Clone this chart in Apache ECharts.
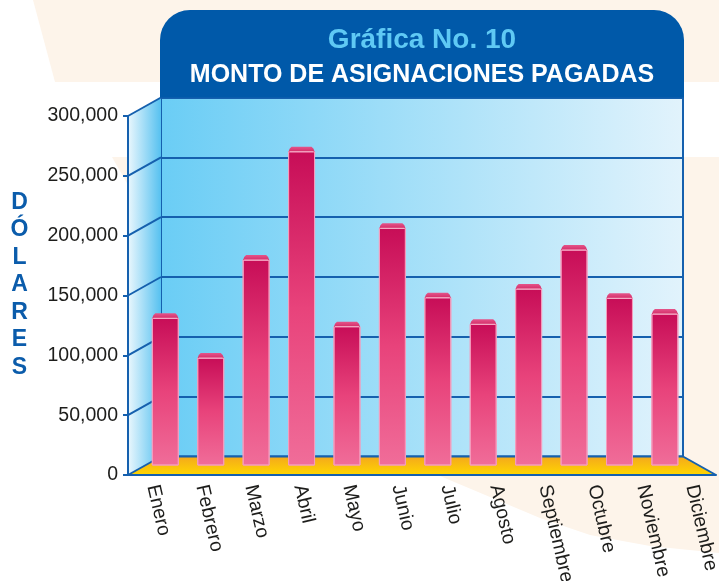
<!DOCTYPE html>
<html>
<head>
<meta charset="utf-8">
<script src="https://cdn.jsdelivr.net/npm/echarts@6/dist/echarts.min.js"></script>
<style>
  html, body { margin: 0; padding: 0; background: #fff; }
  #chart { width: 719px; height: 581px; }
</style>
</head>
<body>
<div id="chart"></div>
<script>
// datos de la gráfica
const meses = ["Enero", "Febrero", "Marzo", "Abril", "Mayo", "Junio", "Julio",
  "Agosto", "Septiembre", "Octubre", "Noviembre", "Diciembre"];
const montos = [122600, 89400, 171300, 261800, 115600, 197800, 139800,
  117600, 147100, 179700, 139300, 126200];
const yTicks = [0, 50000, 100000, 150000, 200000, 250000, 300000];
const yMax = 300000;
const yStep = 50000;

const FONT = '"Liberation Sans", Arial, Helvetica, sans-serif';
const AZUL = "#1560ae";

// plano frontal (ejes), pared del fondo y plano medio (barras)
const front = { left: 128, top: 116, width: 588, height: 359 };
const back = { left: 161, top: 97.5, width: 522, height: 359 };
const mid = { left: 142.6, top: 106, width: 545, height: 359 };

const chartDom = document.getElementById("chart");
const myChart = echarts.init(chartDom);

const option = {
  animation: false,
  backgroundColor: "#fff",
  grid: [
    { ...front, outerBoundsMode: "none", containLabel: false },
    {
      ...back, show: true, z: 0, outerBoundsMode: "none",
      backgroundColor: new echarts.graphic.LinearGradient(0, 0, 1, 0, [
        { offset: 0, color: "#6acdf5" },
        { offset: 1, color: "#e2f3fc" },
      ]),
      borderColor: AZUL, borderWidth: 2,
    },
    { ...mid, outerBoundsMode: "none" },
  ],
  xAxis: [
    {
      gridIndex: 0, type: "category", data: meses, z: 6,
      axisLine: { lineStyle: { color: AZUL, width: 2 } },
      axisTick: { length: 6, lineStyle: { color: AZUL, width: 2 } },
      axisLabel: {
        interval: 0, rotate: -77, margin: 10,
        fontFamily: FONT, fontSize: 19.5, color: "#1d1d1b",
      },
    },
    { gridIndex: 1, type: "category", data: meses, show: false },
    { gridIndex: 2, type: "category", data: meses, show: false },
  ],
  yAxis: [
    {
      gridIndex: 0, type: "value", min: 0, max: yMax, interval: yStep, z: 6,
      axisLine: { show: true, lineStyle: { color: AZUL, width: 2 } },
      axisTick: { show: true, length: 5, lineStyle: { color: AZUL, width: 2 } },
      axisLabel: {
        margin: 10, fontFamily: FONT, fontSize: 19.5, color: "#1d1d1b",
        formatter: (v) => v.toLocaleString("en-US"),
      },
      splitLine: { show: false },
    },
    {
      gridIndex: 1, type: "value", min: 0, max: yMax, interval: yStep,
      axisLine: { show: false }, axisTick: { show: false },
      axisLabel: { show: false },
      splitLine: { show: true, lineStyle: { color: AZUL, width: 2 } },
    },
    {
      gridIndex: 2, type: "value", min: 0, max: yMax, show: false,
      splitLine: { show: false },
    },
  ],
  series: [
    {
      type: "custom",
      xAxisIndex: 2,
      yAxisIndex: 2,
      z: 5,
      data: montos.map((v, i) => [i, v]),
      renderItem: (params, api) => {
        const top = api.coord([api.value(0), api.value(1)]);
        const base = api.coord([api.value(0), 0]);
        const w = api.size([1, 0])[0] * 0.572;
        const x0 = top[0] - w / 2;
        const capH = 5;
        return {
          type: "group",
          children: [
            {
              type: "rect",
              shape: { x: x0, y: top[1], width: w, height: base[1] - top[1] },
              style: {
                fill: new echarts.graphic.LinearGradient(0, 0, 0, 1, [
                  { offset: 0, color: "#c70d57" },
                  { offset: 0.5, color: "#e8437b" },
                  { offset: 1, color: "#f06d99" },
                ]),
                stroke: "#f49dbd", lineWidth: 1,
              },
            },
            {
              type: "polygon",
              shape: {
                points: [
                  [x0, top[1]], [x0 + 1, top[1] - 3], [x0 + 3, top[1] - capH],
                  [x0 + w - 3, top[1] - capH], [x0 + w - 1, top[1] - 3], [x0 + w, top[1]],
                ],
              },
              style: {
                fill: new echarts.graphic.LinearGradient(0, 0, 0, 1, [
                  { offset: 0, color: "#e5558a" },
                  { offset: 1, color: "#d42d69" },
                ]),
              },
            },
            {
              type: "line",
              shape: { x1: x0 + 1, y1: top[1], x2: x0 + w - 1, y2: top[1] },
              style: { stroke: "#f7b3cb", lineWidth: 1 },
            },
          ],
        };
      },
    },
  ],
};

myChart.setOption(option);

// piezas de perspectiva (pared lateral, piso) a partir de las escalas
const yF = (v) => myChart.convertToPixel({ yAxisIndex: 0 }, v);
const yB = (v) => myChart.convertToPixel({ yAxisIndex: 1 }, v);
const frontRight = front.left + front.width;
const backRight = back.left + back.width;

const graphic = [
  // fondo crema decorativo
  {
    type: "polygon", z: -5, silent: true,
    shape: { points: [[33, 0], [719, 0], [719, 82], [55, 82]] },
    style: { fill: "#fdf4ea" },
  },
  {
    type: "polygon", z: -5, silent: true,
    shape: {
      points: [[112, 157], [719, 157], [719, 553], [650, 546], [590, 535],
        [540, 518], [490, 497], [440, 476], [140, 476], [128, 185]],
    },
    style: { fill: "#fdf4ea" },
  },
  // pared lateral
  {
    type: "polygon", z: 1, silent: true,
    shape: {
      points: [[front.left, yF(yMax)], [back.left, yB(yMax)],
        [back.left, yB(0)], [front.left, yF(0)]],
    },
    style: {
      fill: new echarts.graphic.LinearGradient(0, 0, 1, 0, [
        { offset: 0, color: "#eaf7fd" },
        { offset: 1, color: "#56c1f0" },
      ]),
    },
  },
  // piso
  {
    type: "polygon", z: 1, silent: true,
    shape: {
      points: [[front.left, yF(0)], [back.left, yB(0)],
        [backRight, yB(0)], [frontRight, yF(0)]],
    },
    style: {
      fill: new echarts.graphic.LinearGradient(0, 0, 0, 1, [
        { offset: 0, color: "#f4a91c" },
        { offset: 1, color: "#ffd600" },
      ]),
    },
  },
  {
    type: "line", z: 2, silent: true,
    shape: { x1: backRight, y1: yB(0), x2: frontRight, y2: yF(0) },
    style: { stroke: AZUL, lineWidth: 2 },
  },
  {
    type: "line", z: 2, silent: true,
    shape: { x1: back.left, y1: yB(0), x2: backRight, y2: yB(0) },
    style: { stroke: AZUL, lineWidth: 2 },
  },
  // caja del título
  {
    type: "rect", z: 10, silent: true,
    shape: { x: back.left - 1, y: 10, width: back.width + 2, height: yB(yMax) - 10, r: [30, 30, 0, 0] },
    style: { fill: "#0059a9" },
  },
  {
    type: "text", z: 11, silent: true,
    style: {
      x: back.left + back.width / 2, y: 40, text: "Gráfica No. 10",
      align: "center", verticalAlign: "middle",
      font: "bold 28px " + FONT, fill: "#5fc9f4",
    },
  },
  {
    type: "text", z: 11, silent: true,
    style: {
      x: back.left + back.width / 2, y: 75, text: "MONTO DE ASIGNACIONES PAGADAS",
      align: "center", verticalAlign: "middle",
      font: "bold 25px " + FONT, fill: "#ffffff",
    },
  },
  // título del eje
  {
    type: "text", z: 11, silent: true,
    style: {
      x: 19.5, y: 285, text: "DÓLARES".split("").join("\n"),
      align: "center", verticalAlign: "middle", lineHeight: 27.5,
      font: "bold 23px " + FONT, fill: "#0b5cab",
    },
  },
];

// líneas diagonales de la pared lateral
yTicks.forEach((v) => {
  graphic.push({
    type: "line", z: 2, silent: true,
    shape: { x1: front.left, y1: yF(v), x2: back.left, y2: yB(v) },
    style: { stroke: AZUL, lineWidth: 2 },
  });
});

myChart.setOption({ graphic: graphic });
</script>
</body>
</html>
